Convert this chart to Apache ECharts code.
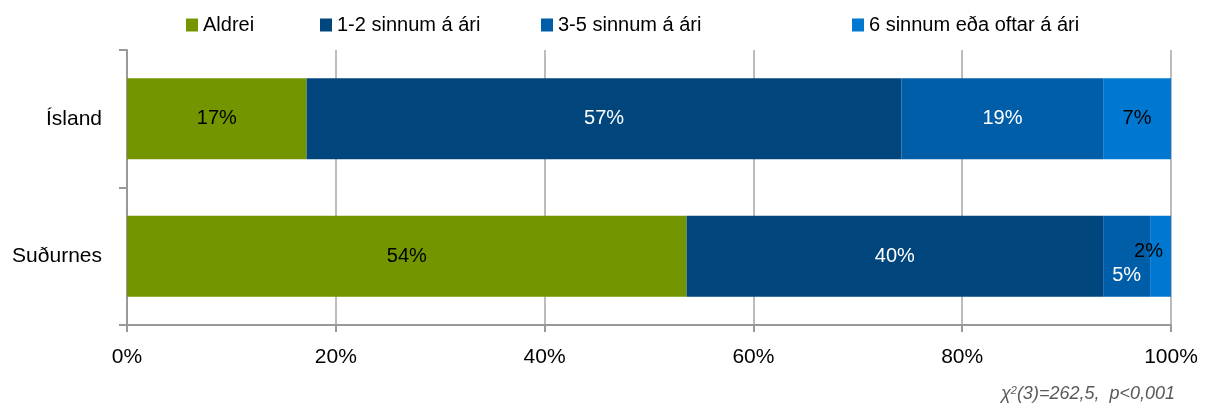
<!DOCTYPE html>
<html><head><meta charset="utf-8">
<script src="https://cdn.jsdelivr.net/npm/echarts@6/dist/echarts.min.js"></script>
<style>html,body{margin:0;padding:0;background:#fff}#c{width:1207px;height:405px}</style>
</head><body><div id="c"></div>
<script>
const categories = ['Ísland', 'Suðurnes'];
const seriesNames = ['Aldrei', '1-2 sinnum á ári', '3-5 sinnum á ári', '6 sinnum eða oftar á ári'];
const aldrei = [17.2, 53.6];
const sinnum12 = [57.0, 39.9];
const sinnum35 = [19.3, 4.5];
const sinnum6 = [6.5, 2.0];
const xTicks = ['0%', '20%', '40%', '60%', '80%', '100%'];

function hasFont(f) {
  const c = document.createElement('canvas').getContext('2d');
  const s = 'abcdefghijklmnopqrstuvwxyz0123456789';
  c.font = '40px monospace'; const a = c.measureText(s).width;
  c.font = '40px "' + f + '", monospace'; const b = c.measureText(s).width;
  return a !== b;
}
const narrowName = ['Liberation Sans Narrow', 'Arial Narrow'].find(hasFont);
const narrow = !!narrowName;
const font = narrow ? '"' + narrowName + '", sans-serif' : '"Liberation Sans", Arial, sans-serif';
const sz = narrow ? { axis: 26, legend: 23, bar: 24 } : { axis: 21, legend: 20, bar: 20 };
const plainFont = '"Liberation Sans", Arial, sans-serif';

const colors = ['#739600', '#00467D', '#005EA8', '#0078D2'];
const labelColors = [['#000', '#000'], ['#fff', '#fff'], ['#fff', '#fff'], ['#000', '#000']];
const values = [aldrei, sinnum12, sinnum35, sinnum6];
const legendLeft = [186, 320, 541, 852];

const series = seriesNames.map((name, si) => ({
  name, type: 'bar', stack: 'total', barWidth: 81,
  itemStyle: { color: colors[si] },
  data: values[si].map((v, ci) => {
    const item = { value: v, label: { color: labelColors[si][ci] } };
    if (si === 2 && ci === 1) item.label.offset = [0, 19];
    if (si === 3 && ci === 1) item.label.offset = [-12, -5];
    return item;
  }),
  label: {
    show: true, position: 'inside', fontFamily: font, fontSize: sz.bar,
    formatter: p => Math.round(p.value) + '%'
  }
}));

const chart = echarts.init(document.getElementById('c'));
chart.setOption({
  animation: false,
  grid: { left: 127, right: 36, top: 50, bottom: 80, containLabel: false },
  legend: seriesNames.map((n, i) => ({
    data: [n], left: legendLeft[i], top: 15, itemWidth: 12, itemHeight: 13, itemGap: 0,
    icon: 'rect', textStyle: { fontFamily: font, fontSize: sz.legend, color: '#000' },
    padding: 0
  })),
  xAxis: {
    type: 'value', min: 0, max: 100, interval: 20,
    axisLine: { show: true, lineStyle: { color: '#999', width: 2 } },
    axisTick: { show: true, length: 7, lineStyle: { color: '#999', width: 2 } },
    splitLine: { show: true, lineStyle: { color: '#a6a6a6', width: 1.5 } },
    axisLabel: { fontFamily: font, fontSize: sz.axis, color: '#000', margin: 22,
      formatter: v => xTicks[Math.round(v / 20)] }
  },
  yAxis: {
    type: 'category', data: categories, inverse: true,
    axisLine: { show: true, lineStyle: { color: '#999', width: 2 } },
    axisTick: { show: true, length: 8, lineStyle: { color: '#999', width: 2 } },
    axisLabel: { fontFamily: font, fontSize: sz.axis, color: '#000', margin: 25 }
  },
  graphic: [{
    type: 'text', right: 32, top: 385,
    style: {
      text: '{i|χ}{s|2}{i|(3)=262,5,  p<0,001}',
      rich: {
        i: { fontFamily: plainFont, fontStyle: 'italic', fontSize: 18, fill: '#595959' },
        s: { fontFamily: plainFont, fontStyle: 'italic', fontSize: 11, fill: '#595959', verticalAlign: 'top', lineHeight: 11 }
      }
    }
  }],
  series
});
</script></body></html>
